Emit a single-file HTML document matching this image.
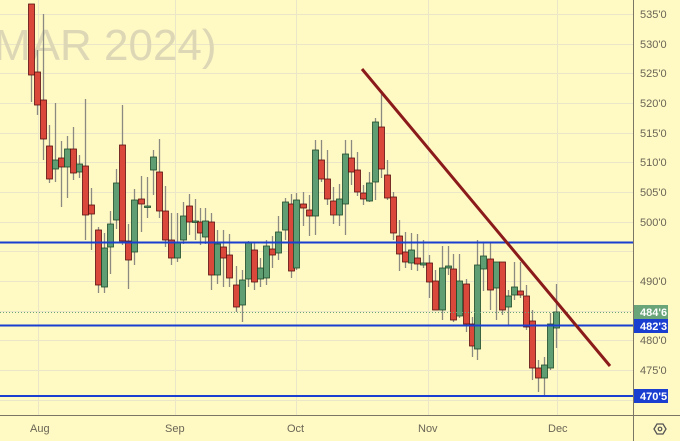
<!DOCTYPE html>
<html><head><meta charset="utf-8"><style>
html,body{margin:0;padding:0;background:#fff9c4;}
svg{display:block;font-family:"Liberation Sans",sans-serif;}
</style></head><body>
<svg id="s" width="680" height="441" viewBox="0 0 680 441" xmlns="http://www.w3.org/2000/svg">
<rect width="680" height="441" fill="#fff9c4"/>
<g id="grid" stroke="#ebe6c8" stroke-width="1"></g>
<text x="-6" y="60" font-size="44" fill="#ddd7b6">MAR 2024)</text>
<g id="c"></g>
<line x1="0" y1="242.5" x2="633" y2="242.5" stroke="#1a3fd0" stroke-width="2"/>
<line x1="0" y1="325.5" x2="633" y2="325.5" stroke="#1a3fd0" stroke-width="2"/>
<line x1="0" y1="396" x2="633" y2="396" stroke="#1a3fd0" stroke-width="2"/>
<line x1="0" y1="312.5" x2="633" y2="312.5" stroke="#6aa57a" stroke-width="1" stroke-dasharray="1,2"/>
<line x1="362" y1="69" x2="610" y2="366" stroke="#8b1a1a" stroke-width="3"/>
<line x1="633.5" y1="0" x2="633.5" y2="441" stroke="#7a7565" stroke-width="1"/>
<line x1="0" y1="415.5" x2="680" y2="415.5" stroke="#7a7565" stroke-width="1"/>
<g font-size="11" fill="#6a6555">
<text x="640" y="18">535'0</text><text x="640" y="48">530'0</text><text x="640" y="77">525'0</text>
<text x="640" y="107">520'0</text><text x="640" y="137">515'0</text><text x="640" y="166">510'0</text>
<text x="640" y="196">505'0</text><text x="640" y="226">500'0</text>
<text x="640" y="285">490'0</text><text x="640" y="344">480'0</text><text x="640" y="374">475'0</text>
<text x="30" y="432">Aug</text><text x="165" y="432">Sep</text><text x="287" y="432">Oct</text>
<text x="418" y="432">Nov</text><text x="548" y="432">Dec</text>
</g>
<rect x="634" y="305" width="34" height="14" fill="#6aa57a"/>
<text x="640" y="316" font-size="11" fill="#fff" font-weight="bold">484'6</text>
<rect x="634" y="319" width="34" height="14" fill="#1a3fd0"/>
<text x="640" y="330" font-size="11" fill="#fff" font-weight="bold">482'3</text>
<rect x="634" y="389" width="34" height="14" fill="#1a3fd0"/>
<text x="640" y="400" font-size="11" fill="#fff" font-weight="bold">470'5</text>
<polygon points="654,429 657,424 663,424 666,429 663,434 657,434" fill="none" stroke="#555" stroke-width="1.3"/>
<circle cx="660" cy="429" r="1.8" fill="none" stroke="#555" stroke-width="1.2"/>
</svg>
<script>
var g=document.getElementById('grid'),ns="http://www.w3.org/2000/svg";
function L(a,b,c,d,p,col,w){var l=document.createElementNS(ns,'line');l.setAttribute('x1',a);l.setAttribute('y1',b);l.setAttribute('x2',c);l.setAttribute('y2',d);if(col){l.setAttribute('stroke',col);l.setAttribute('stroke-width',w||1);}p.appendChild(l);}
for(var k=0;k<14;k++){var y=Math.round(14+k*29.67)+.5;L(0,y,633,y,g);}
[38,175,296,428,557].forEach(function(x){L(x+.5,0,x+.5,415,g);});
var d=[[31,4,75,4,102],[37,72,105,50,115],[43,100,139,14,160],[49,146,179,125,183],[55,169,160,103,182],[61,158,167,141,207],[67,167,149,136,198],[73,149,173,127,180],[79,172,164,155,178],[85,166,215,99,240],[91,205,214,188,250],[98,230,285,227,293],[104,287,248,233,293],[110,247,224,211,274],[116,220,183,169,229],[122,145,241,105,245],[128,241,260,224,289],[134,252,200,189,265],[141,199,204,176,232],[147,207,206,177,218],[153,170,157,150,195],[159,172,211,139,218],[165,211,240,186,247],[171,240,258,213,265],[177,258,242,213,262],[183,240,216,202,244],[189,206,222,194,235],[195,222,221,199,240],[200,222,233,208,245],[205,237,221,208,244],[211,222,275,213,290],[217,275,244,230,284],[223,247,258,230,287],[229,255,278,234,287],[236,285,307,266,312],[242,305,280,270,322],[248,279,242,241,287],[254,250,282,243,290],[260,279,268,258,287],[266,278,246,240,285],[272,249,255,236,268],[278,253,232,216,260],[285,230,202,198,240],[291,204,271,194,278],[296,268,200,193,270],[303,204,208,192,226],[309,210,216,195,236],[315,216,150,140,235],[321,160,179,140,182],[327,179,199,150,205],[333,201,215,187,224],[339,215,199,184,226],[345,204,154,140,235],[351,158,172,140,185],[357,170,192,152,196],[363,193,199,185,205],[369,201,183,172,202],[375,182,122,118,200],[381,127,169,93,178],[387,175,198,160,200],[393,197,233,192,240],[399,236,254,220,271],[405,252,262,232,268],[411,263,250,233,270],[417,258,264,234,271],[423,265,263,240,268],[429,263,282,255,298],[435,281,310,270,310],[442,310,268,246,320],[448,268,266,246,275],[453,269,320,254,322],[459,316,281,254,318],[466,284,324,279,332],[472,324,346,317,357],[477,349,265,240,360],[483,269,256,243,291],[490,259,290,243,310],[496,288,262,262,320],[502,262,310,262,315],[508,307,296,290,325],[514,295,287,262,300],[520,291,295,262,298],[526,296,327,285,330],[532,321,368,310,380],[538,368,378,360,392],[544,378,365,357,395],[550,368,324,313,370],[556,328,312,284,348]];
var c=document.getElementById('c');
d.forEach(function(a){var x=a[0],o=a[1],cl=a[2];L(x+.5,a[3],x+.5,a[4],c,'#8a8a80',1.3);
var r=document.createElementNS(ns,'rect');var t=Math.min(o,cl),h=Math.max(1.5,Math.abs(o-cl));var up=cl<o;
r.setAttribute('x',x-2.5);r.setAttribute('y',t);r.setAttribute('width',6);r.setAttribute('height',h);
r.setAttribute('fill',up?'#5e9e72':'#d9483a');r.setAttribute('stroke',up?'#1f4a2a':'#5a1010');r.setAttribute('stroke-width',0.8);c.appendChild(r);});
</script>
</body></html>
